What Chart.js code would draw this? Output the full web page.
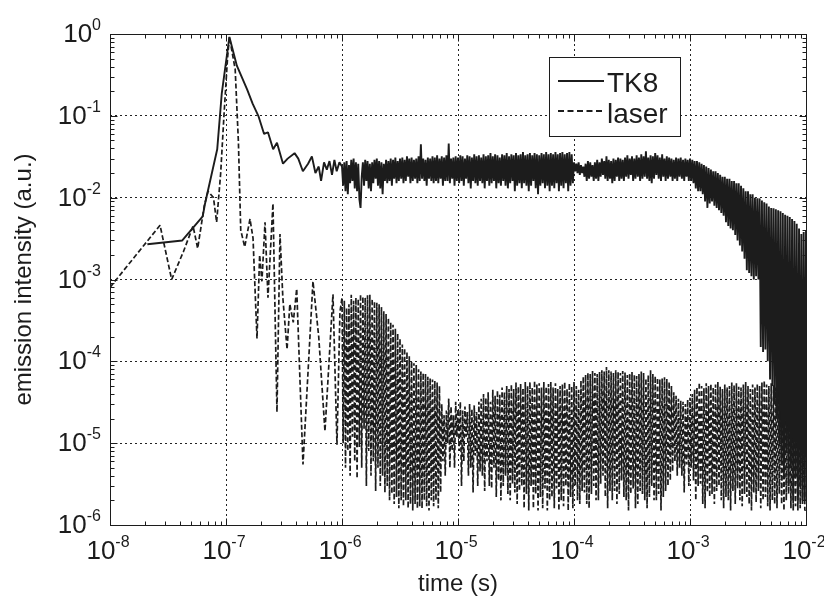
<!DOCTYPE html>
<html><head><meta charset="utf-8">
<script src="https://cdn.jsdelivr.net/npm/chart.js@4"></script>
<style>html,body{margin:0;padding:0;background:#fff}#wrap{width:824px;height:597px}</style>
</head><body><div id="wrap"><canvas id="c" width="824" height="597"></canvas></div>
<script>
// ---- tick labels ----
const xTickValues = [1e-8, 1e-7, 1e-6, 1e-5, 1e-4, 1e-3, 1e-2];
const xTickExps = ['-8', '-7', '-6', '-5', '-4', '-3', '-2'];
const yTickValues = [1e-6, 1e-5, 1e-4, 1e-3, 1e-2, 1e-1, 1];
const yTickExps = ['-6', '-5', '-4', '-3', '-2', '-1', '0'];
const seriesNames = ['TK8', 'laser'];
const xTitle = 'time (s)';
const yTitle = 'emission intensity (a.u.)';

// ---- TK8, early part (t < 1 us) ----
const tk8EarlyT = [2.1e-8,4.2e-8,6.3e-8,6.6e-8,8.4e-8,9.2e-8,1.07e-7,1.24e-7,1.52e-7,1.7e-7,1.9e-7,2.13e-7,2.3e-7,2.55e-7,2.75e-7,3.1e-7,3.4e-7,3.9e-7,4.2e-7,4.6e-7,5.1e-7,5.5e-7,5.9e-7,6.3e-7,6.6e-7,7.0e-7,7.4e-7,7.8e-7,8.2e-7,8.6e-7,9.0e-7,9.5e-7];
const tk8EarlyY = [2.7e-3,3.0e-3,5.9e-3,8.5e-3,3.9e-2,0.19,0.92,0.41,0.21,0.14,0.10,0.06,0.063,0.039,0.047,0.026,0.030,0.035,0.030,0.021,0.026,0.032,0.020,0.024,0.016,0.027,0.022,0.028,0.019,0.029,0.021,0.027];

// ---- laser, early part (t < 1 us) ----
const laserEarlyT = [1e-8,2.7e-8,3.4e-8,4.3e-8,5.2e-8,5.7e-8,6.5e-8,7.0e-8,7.8e-8,8.3e-8,9.0e-8,9.6e-8,1.03e-7,1.07e-7,1.2e-7,1.28e-7,1.34e-7,1.45e-7,1.61e-7,1.71e-7,1.85e-7,1.95e-7,2.04e-7,2.17e-7,2.3e-7,2.54e-7,2.75e-7,2.92e-7,3.09e-7,3.36e-7,3.55e-7,3.8e-7,4.07e-7,4.61e-7,5.62e-7,6.3e-7,7.13e-7,8.36e-7,9.05e-7,9.6e-7];
const laserEarlyY = [8e-4,4.6e-3,1e-3,2.2e-3,4.5e-3,2.4e-3,8e-3,1.2e-2,1e-2,5e-3,2e-2,0.1,0.5,0.92,0.37,0.047,4e-3,2.5e-3,5.5e-3,3.2e-3,1.9e-4,2e-3,9.5e-4,5e-3,6e-4,8.5e-3,2.4e-5,3.6e-3,6e-4,1.4e-4,5e-4,3e-4,7.7e-4,5.5e-6,9.5e-4,2e-4,1.4e-5,6.6e-4,9.6e-6,4e-4];

// ---- shared sample times for the dense part (1 us .. 10 ms) ----
const lateTimes = [
1e-6,1.023e-6,1.047e-6,1.072e-6,1.096e-6,1.122e-6,1.148e-6,1.175e-6,1.202e-6,1.23e-6,
1.259e-6,1.288e-6,1.318e-6,1.349e-6,1.38e-6,1.413e-6,1.445e-6,1.479e-6,1.514e-6,1.549e-6,
1.585e-6,1.622e-6,1.66e-6,1.698e-6,1.738e-6,1.778e-6,1.82e-6,1.862e-6,1.905e-6,1.95e-6,
1.995e-6,2.042e-6,2.089e-6,2.138e-6,2.188e-6,2.239e-6,2.291e-6,2.344e-6,2.399e-6,2.455e-6,
2.512e-6,2.57e-6,2.63e-6,2.692e-6,2.754e-6,2.818e-6,2.884e-6,2.951e-6,3.02e-6,3.09e-6,
3.162e-6,3.236e-6,3.311e-6,3.388e-6,3.467e-6,3.548e-6,3.631e-6,3.715e-6,3.802e-6,3.89e-6,
3.981e-6,4.074e-6,4.169e-6,4.266e-6,4.365e-6,4.467e-6,4.571e-6,4.677e-6,4.786e-6,4.898e-6,
5.012e-6,5.129e-6,5.248e-6,5.37e-6,5.495e-6,5.623e-6,5.754e-6,5.888e-6,6.026e-6,6.166e-6,
6.31e-6,6.457e-6,6.607e-6,6.761e-6,6.918e-6,7.079e-6,7.244e-6,7.413e-6,7.586e-6,7.762e-6,
7.943e-6,8.128e-6,8.318e-6,8.511e-6,8.71e-6,8.913e-6,9.12e-6,9.333e-6,9.55e-6,9.772e-6,
1e-5,1.023e-5,1.047e-5,1.072e-5,1.096e-5,1.122e-5,1.148e-5,1.175e-5,1.202e-5,1.23e-5,
1.259e-5,1.288e-5,1.318e-5,1.349e-5,1.38e-5,1.413e-5,1.445e-5,1.479e-5,1.514e-5,1.549e-5,
1.585e-5,1.622e-5,1.66e-5,1.698e-5,1.738e-5,1.778e-5,1.82e-5,1.862e-5,1.905e-5,1.95e-5,
1.995e-5,2.042e-5,2.089e-5,2.138e-5,2.188e-5,2.239e-5,2.291e-5,2.344e-5,2.399e-5,2.455e-5,
2.512e-5,2.57e-5,2.63e-5,2.692e-5,2.754e-5,2.818e-5,2.884e-5,2.951e-5,3.02e-5,3.09e-5,
3.162e-5,3.236e-5,3.311e-5,3.388e-5,3.467e-5,3.548e-5,3.631e-5,3.715e-5,3.802e-5,3.89e-5,
3.981e-5,4.074e-5,4.169e-5,4.266e-5,4.365e-5,4.467e-5,4.571e-5,4.677e-5,4.786e-5,4.898e-5,
5.012e-5,5.129e-5,5.248e-5,5.37e-5,5.495e-5,5.623e-5,5.754e-5,5.888e-5,6.026e-5,6.166e-5,
6.31e-5,6.457e-5,6.607e-5,6.761e-5,6.918e-5,7.079e-5,7.244e-5,7.413e-5,7.586e-5,7.762e-5,
7.943e-5,8.128e-5,8.318e-5,8.511e-5,8.71e-5,8.913e-5,9.12e-5,9.333e-5,9.55e-5,9.772e-5,
1e-4,1.023e-4,1.047e-4,1.072e-4,1.096e-4,1.122e-4,1.148e-4,1.175e-4,1.202e-4,1.23e-4,
1.259e-4,1.288e-4,1.318e-4,1.349e-4,1.38e-4,1.413e-4,1.445e-4,1.479e-4,1.514e-4,1.549e-4,
1.585e-4,1.622e-4,1.66e-4,1.698e-4,1.738e-4,1.778e-4,1.82e-4,1.862e-4,1.905e-4,1.95e-4,
1.995e-4,2.042e-4,2.089e-4,2.138e-4,2.188e-4,2.239e-4,2.291e-4,2.344e-4,2.399e-4,2.455e-4,
2.512e-4,2.57e-4,2.63e-4,2.692e-4,2.754e-4,2.818e-4,2.884e-4,2.951e-4,3.02e-4,3.09e-4,
3.162e-4,3.236e-4,3.311e-4,3.388e-4,3.467e-4,3.548e-4,3.631e-4,3.715e-4,3.802e-4,3.89e-4,
3.981e-4,4.074e-4,4.169e-4,4.266e-4,4.365e-4,4.467e-4,4.571e-4,4.677e-4,4.786e-4,4.898e-4,
5.012e-4,5.129e-4,5.248e-4,5.37e-4,5.495e-4,5.623e-4,5.754e-4,5.888e-4,6.026e-4,6.166e-4,
6.31e-4,6.457e-4,6.607e-4,6.761e-4,6.918e-4,7.079e-4,7.244e-4,7.413e-4,7.586e-4,7.762e-4,
7.943e-4,8.128e-4,8.318e-4,8.511e-4,8.71e-4,8.913e-4,9.12e-4,9.333e-4,9.55e-4,9.772e-4,
1e-3,1.023e-3,1.047e-3,1.072e-3,1.096e-3,1.122e-3,1.148e-3,1.175e-3,1.202e-3,1.23e-3,
1.259e-3,1.288e-3,1.318e-3,1.349e-3,1.38e-3,1.413e-3,1.445e-3,1.479e-3,1.514e-3,1.549e-3,
1.585e-3,1.622e-3,1.66e-3,1.698e-3,1.738e-3,1.778e-3,1.82e-3,1.862e-3,1.905e-3,1.95e-3,
1.995e-3,2.042e-3,2.089e-3,2.138e-3,2.188e-3,2.239e-3,2.291e-3,2.344e-3,2.399e-3,2.455e-3,
2.512e-3,2.57e-3,2.63e-3,2.692e-3,2.754e-3,2.818e-3,2.884e-3,2.951e-3,3.02e-3,3.09e-3,
3.162e-3,3.236e-3,3.311e-3,3.388e-3,3.467e-3,3.548e-3,3.631e-3,3.715e-3,3.802e-3,3.89e-3,
3.981e-3,4.074e-3,4.169e-3,4.266e-3,4.365e-3,4.467e-3,4.571e-3,4.677e-3,4.786e-3,4.898e-3,
5.012e-3,5.129e-3,5.248e-3,5.37e-3,5.495e-3,5.623e-3,5.754e-3,5.888e-3,6.026e-3,6.166e-3,
6.31e-3,6.457e-3,6.607e-3,6.761e-3,6.918e-3,7.079e-3,7.244e-3,7.413e-3,7.586e-3,7.762e-3,
7.943e-3,8.128e-3,8.318e-3,8.511e-3,8.71e-3,8.913e-3,9.12e-3,9.333e-3,9.55e-3,9.772e-3,
1e-2];

// ---- TK8, dense part ----
const tk8LateY = [
0.024,0.014,0.027,0.012,0.028,0.011,0.025,0.015,0.029,0.016,
0.030,0.013,0.027,0.012,0.026,0.0095,0.0075,0.018,0.027,0.014,
0.029,0.016,0.028,0.013,0.026,0.012,0.027,0.015,0.029,0.017,
0.030,0.014,0.028,0.013,0.027,0.011,0.026,0.016,0.029,0.015,
0.028,0.016,0.030,0.014,0.029,0.017,0.031,0.015,0.028,0.016,
0.030,0.017,0.031,0.015,0.029,0.016,0.032,0.018,0.030,0.015,
0.031,0.016,0.029,0.017,0.030,0.015,0.032,0.016,0.045,0.017,
0.030,0.016,0.029,0.014,0.031,0.017,0.030,0.016,0.032,0.015,
0.031,0.016,0.033,0.015,0.030,0.017,0.032,0.014,0.031,0.016,
0.033,0.016,0.046,0.015,0.030,0.017,0.031,0.014,0.032,0.016,
0.031,0.015,0.033,0.016,0.032,0.014,0.030,0.017,0.033,0.015,
0.032,0.013,0.031,0.016,0.034,0.015,0.032,0.014,0.033,0.016,
0.031,0.015,0.034,0.013,0.032,0.016,0.033,0.014,0.035,0.015,
0.032,0.016,0.034,0.013,0.033,0.015,0.031,0.014,0.034,0.016,
0.033,0.014,0.035,0.013,0.032,0.015,0.034,0.016,0.033,0.012,
0.035,0.014,0.033,0.015,0.034,0.013,0.036,0.015,0.033,0.014,
0.034,0.012,0.035,0.014,0.033,0.016,0.035,0.013,0.034,0.011,
0.033,0.014,0.035,0.015,0.034,0.013,0.036,0.014,0.034,0.012,
0.035,0.014,0.034,0.013,0.036,0.015,0.034,0.012,0.035,0.014,
0.036,0.013,0.034,0.015,0.035,0.012,0.036,0.014,0.034,0.015,
0.027,0.021,0.026,0.020,0.027,0.019,0.025,0.020,0.024,0.018,
0.026,0.016,0.028,0.017,0.027,0.018,0.025,0.016,0.027,0.017,
0.029,0.016,0.027,0.018,0.030,0.019,0.028,0.017,0.032,0.016,
0.029,0.017,0.028,0.015,0.030,0.016,0.029,0.018,0.031,0.016,
0.030,0.017,0.029,0.016,0.031,0.018,0.033,0.017,0.030,0.019,
0.032,0.016,0.030,0.017,0.033,0.018,0.031,0.016,0.034,0.017,
0.032,0.018,0.037,0.017,0.031,0.016,0.033,0.015,0.032,0.017,
0.035,0.019,0.033,0.017,0.031,0.016,0.034,0.018,0.030,0.016,
0.032,0.017,0.031,0.018,0.030,0.016,0.029,0.017,0.031,0.016,
0.030,0.018,0.031,0.017,0.029,0.016,0.030,0.018,0.029,0.016,
0.030,0.016,0.029,0.015,0.028,0.013,0.028,0.012,0.027,0.012,
0.026,0.011,0.025,0.009,0.024,0.0075,0.023,0.0085,0.022,0.009,
0.021,0.008,0.021,0.0075,0.020,0.007,0.019,0.0065,0.018,0.006,
0.018,0.005,0.017,0.0045,0.017,0.0042,0.016,0.004,0.016,0.0035,
0.015,0.003,0.015,0.0026,0.014,0.0022,0.013,0.0018,0.012,0.0013,
0.012,0.0012,0.011,0.0011,0.011,0.001,0.010,0.0011,0.0098,0.001,
0.0098,0.00015,0.0092,0.00013,0.0088,0.00014,0.0085,0.0001,0.0078,0.00006,
0.0075,0.00005,0.0074,0.00003,0.0072,0.00002,0.0070,0.00001,0.0068,0.000006,
0.0065,0.000004,0.0062,0.000008,0.0060,0.000003,0.0058,0.000005,0.0055,0.000002,
0.0052,0.000004,0.0048,0.000002,0.0042,0.000003,0.0036,0.000002,0.0038,0.000002,
0.0040];

// ---- laser, dense part ----
const laserLateY = [
6e-4,1e-5,5.5e-4,5e-6,4.5e-4,8e-6,5e-4,4e-6,6.5e-4,1.2e-5,
5.5e-4,6e-6,6e-4,3.7e-6,5.8e-4,9e-6,6.6e-4,5e-6,6.2e-4,1.5e-5,
6e-4,3e-6,6.4e-4,8e-6,6.5e-4,4e-6,5.8e-4,6e-6,5.4e-4,2.6e-6,
5.2e-4,5e-6,5e-4,3e-6,4.6e-4,4e-6,4.1e-4,2.5e-6,3.8e-4,3e-6,
3.4e-4,2e-6,3e-4,2.4e-6,2.8e-4,1.8e-6,2.5e-4,2.2e-6,2.2e-4,1.6e-6,
1.9e-4,2e-6,1.6e-4,1.7e-6,1.45e-4,2e-6,1.3e-4,1.6e-6,1.15e-4,1.8e-6,
1e-4,1.5e-6,9.5e-5,1.8e-6,9e-5,1.6e-6,8e-5,1.7e-6,7.5e-5,1.6e-6,
7.2e-5,2e-6,7e-5,1.7e-6,6.5e-5,1.5e-6,6.2e-5,2e-6,6e-5,1.7e-6,
5.8e-5,2e-6,5.5e-5,1.6e-6,5e-5,2.5e-6,3e-5,6e-6,2.2e-5,4e-6,
2.5e-5,1e-5,3.5e-5,5e-6,2.8e-5,8e-6,2.2e-5,5e-6,3.2e-5,1.2e-5,
2.6e-5,8e-6,3.2e-5,3e-6,2.5e-5,6e-6,2.8e-5,1.2e-5,2.4e-5,4e-6,
3e-5,5e-6,2.6e-5,2.5e-6,2.9e-5,7e-6,2.4e-5,3e-6,3.2e-5,4.5e-6,
3.5e-5,4e-6,4e-5,2.6e-6,3.6e-5,6e-6,4.2e-5,3e-6,3.2e-5,2.8e-6,
4.5e-5,5e-6,3.8e-5,2.2e-6,4.4e-5,3.5e-6,3.9e-5,2e-6,4.8e-5,3e-6,
4.2e-5,4e-6,5e-5,2.4e-6,4.6e-5,2e-6,5.2e-5,3.2e-6,4.6e-5,2.5e-6,
5.5e-5,1.8e-6,4.9e-5,2.6e-6,5.3e-5,3e-6,4.7e-5,1.6e-6,5.6e-5,2.4e-6,
5e-5,1.5e-6,5.6e-5,3e-6,4.8e-5,1.6e-6,5.8e-5,2.4e-6,5.2e-5,1.5e-6,
5.4e-5,2.2e-6,4.8e-5,1.6e-6,5.6e-5,2.8e-6,4.9e-5,1.5e-6,5.3e-5,2e-6,
5.6e-5,2.2e-6,4.8e-5,1.6e-6,5.4e-5,2.8e-6,4.6e-5,1.5e-6,5e-5,2e-6,
5.2e-5,1.7e-6,5.6e-5,3e-6,4.6e-5,1.5e-6,5.4e-5,2.2e-6,5e-5,1.6e-6,
5.6e-5,3e-6,5e-5,2e-6,4.5e-5,1.8e-6,5.8e-5,2.6e-6,6.5e-5,2.5e-6,
6.8e-5,1.8e-6,7.2e-5,1.6e-6,7e-5,2.4e-6,7.6e-5,3e-6,7.2e-5,2e-6,
7e-5,2e-6,7.4e-5,3.2e-6,7.8e-5,4e-6,7.5e-5,2.2e-6,8.5e-5,1.6e-6,
7.8e-5,2.6e-6,7.5e-5,2e-6,7.2e-5,2.6e-6,7.8e-5,1.8e-6,7.4e-5,2.4e-6,
7.2e-5,3.5e-6,7.6e-5,2.2e-6,7.3e-5,2e-6,6.8e-5,1.5e-6,7.1e-5,2.4e-6,
7.4e-5,2.8e-6,6.9e-5,1.6e-6,6.6e-5,1.8e-6,7e-5,2.6e-6,7.5e-5,2.4e-6,
7.2e-5,2e-6,6.2e-5,1.6e-6,6.8e-5,2.2e-6,7.8e-5,3e-6,7e-5,2e-6,
6.6e-5,2e-6,6.3e-5,2.4e-6,6e-5,1.5e-6,6.2e-5,2.2e-6,6.4e-5,2.6e-6,
6.1e-5,3e-6,5.6e-5,3.5e-6,5e-5,4.5e-6,4.2e-5,6e-6,3.8e-5,4e-6,
3.5e-5,5e-6,3.3e-5,4e-6,3.2e-5,2.5e-6,3e-5,5.5e-6,3.4e-5,3e-6,
3.6e-5,5e-6,4e-5,3.5e-6,4.5e-5,2e-6,4.8e-5,3e-6,5.5e-5,3.2e-6,
5e-5,1.8e-6,4.7e-5,1.6e-6,5.4e-5,2.5e-6,5e-5,2.2e-6,5.3e-5,2.4e-6,
4.8e-5,1.8e-6,5.2e-5,2.6e-6,5.6e-5,3e-6,4.9e-5,2e-6,4.6e-5,1.6e-6,
5.2e-5,2.2e-6,4.8e-5,2e-6,5e-5,1.5e-6,5.5e-5,2.6e-6,5.1e-5,1.8e-6,
5.4e-5,2.8e-6,4.9e-5,2e-6,4.8e-5,1.7e-6,5.2e-5,2.4e-6,5.6e-5,2.2e-6,
5e-5,1.8e-6,4.6e-5,1.5e-6,5.2e-5,2.5e-6,4.8e-5,1.9e-6,5.3e-5,2.6e-6,
5e-5,1.6e-6,5.5e-5,2e-6,5.8e-5,2.2e-6,5.2e-5,1.7e-6,5e-5,1.5e-6,
5.4e-5,2e-6,5.1e-5,1.8e-6,4.8e-5,1.6e-6,5.2e-5,2.4e-6,5.6e-5,1.8e-6,
5.3e-5,1.5e-6,5e-5,2e-6,5.2e-5,2.4e-6,4.8e-5,1.6e-6,5.4e-5,1.5e-6,
5e-5,1.7e-6,4.6e-5,1.5e-6,5.2e-5,1.6e-6,4.8e-5,1.8e-6,5e-5,1.5e-6,
1.6e-6];

function pts(ts, ys) { return ts.map((t, i) => ({ x: t, y: ys[i] })); }
const tk8Data = pts(tk8EarlyT, tk8EarlyY).concat(pts(lateTimes, tk8LateY));
const laserData = pts(laserEarlyT, laserEarlyY).concat(pts(lateTimes, laserLateY));

const FONT = '"Liberation Sans", Arial, Helvetica, sans-serif';
const INK = '#1c1c1c';

const framePlugin = {
  id: 'frame',
  afterDraw(chart) {
    const ctx = chart.ctx, a = chart.chartArea, xs = chart.scales.x, ys = chart.scales.y;
    ctx.save();
    ctx.setLineDash([]);
    ctx.strokeStyle = INK; ctx.lineWidth = 1;
    const L = Math.round(a.left) + 0.5, R = Math.round(a.right) + 0.5, T = Math.round(a.top) + 0.5, B = Math.round(a.bottom) + 0.5;
    ctx.strokeRect(L, T, R - L, B - T);
    ctx.beginPath();
    for (let e = -8; e <= -2; e++) {
      for (let m = 1; m <= 9; m++) {
        if (e === -2 && m > 1) break;
        const px = Math.round(xs.getPixelForValue(m * Math.pow(10, e))) + 0.5;
        const len = m === 1 ? 7 : 4;
        ctx.moveTo(px, B); ctx.lineTo(px, B - len);
        ctx.moveTo(px, T); ctx.lineTo(px, T + len);
      }
    }
    for (let e = -6; e <= 0; e++) {
      for (let m = 1; m <= 9; m++) {
        if (e === 0 && m > 1) break;
        const py = Math.round(ys.getPixelForValue(m * Math.pow(10, e))) + 0.5;
        const len = m === 1 ? 7 : 4;
        ctx.moveTo(L, py); ctx.lineTo(L + len, py);
        ctx.moveTo(R, py); ctx.lineTo(R - len, py);
      }
    }
    ctx.stroke();

    // tick labels
    ctx.fillStyle = INK;
    ctx.textBaseline = 'alphabetic';
    ctx.textAlign = 'left';
    xTickValues.forEach((v, i) => {
      const px = xs.getPixelForValue(v);
      ctx.font = '26px ' + FONT; const w1 = ctx.measureText('10').width;
      ctx.font = '16px ' + FONT; const w2 = ctx.measureText(xTickExps[i]).width;
      const x0 = px - (w1 + w2) / 2 - 2;
      ctx.font = '26px ' + FONT; ctx.fillText('10', x0, 559);
      ctx.font = '16px ' + FONT; ctx.fillText(xTickExps[i], x0 + w1, 547);
    });
    yTickValues.forEach((v, i) => {
      const py = ys.getPixelForValue(v);
      ctx.font = '26px ' + FONT; const w1 = ctx.measureText('10').width;
      ctx.font = '16px ' + FONT; const w2 = ctx.measureText(yTickExps[i]).width;
      const x0 = 101 - (w1 + w2);
      ctx.font = '26px ' + FONT; ctx.fillText('10', x0, py + 8);
      ctx.font = '16px ' + FONT; ctx.fillText(yTickExps[i], x0 + w1, py - 4);
    });

    // axis titles
    ctx.font = '24px ' + FONT;
    ctx.textAlign = 'center';
    ctx.fillText(xTitle, (a.left + a.right) / 2, 591);
    ctx.save();
    ctx.translate(31, (a.top + a.bottom) / 2);
    ctx.rotate(-Math.PI / 2);
    ctx.fillText(yTitle, 0, 0);
    ctx.restore();

    // legend
    ctx.fillStyle = '#fff';
    ctx.fillRect(549.5, 57.5, 131, 79);
    ctx.strokeStyle = INK; ctx.lineWidth = 1;
    ctx.strokeRect(549.5, 57.5, 131, 79);
    ctx.lineWidth = 1.8;
    ctx.beginPath(); ctx.moveTo(558, 81); ctx.lineTo(604, 81); ctx.stroke();
    ctx.setLineDash([6, 3.5]);
    ctx.beginPath(); ctx.moveTo(558, 111); ctx.lineTo(604, 111); ctx.stroke();
    ctx.setLineDash([]);
    ctx.fillStyle = INK;
    ctx.textAlign = 'left';
    ctx.font = '28px ' + FONT;
    ctx.fillText(chart.data.datasets[0].label, 607, 92);
    ctx.fillText(chart.data.datasets[1].label, 607, 123);
    ctx.restore();
  }
};

function decadeTicks(values) {
  return function (scale) { scale.ticks = values.map(v => ({ value: v })); };
}

new Chart(document.getElementById('c'), {
  type: 'line',
  data: {
    datasets: [
      { label: seriesNames[0], data: tk8Data, borderColor: INK, borderWidth: 1.9, pointRadius: 0, tension: 0, fill: false, borderJoinStyle: 'bevel' },
      { label: seriesNames[1], data: laserData, borderColor: INK, borderWidth: 1.7, borderDash: [5, 2.5], pointRadius: 0, tension: 0, fill: false, borderJoinStyle: 'bevel' }
    ]
  },
  options: {
    responsive: false,
    animation: false,
    devicePixelRatio: 1,
    layout: { padding: { left: 110, right: 18, top: 34, bottom: 72 } },
    plugins: { legend: { display: false }, tooltip: { enabled: false } },
    scales: {
      x: {
        type: 'logarithmic', min: 1e-8, max: 1e-2,
        afterBuildTicks: decadeTicks(xTickValues),
        ticks: { display: false },
        grid: { color: '#222', lineWidth: 1, drawTicks: false },
        border: { display: false, dash: [2, 3] }
      },
      y: {
        type: 'logarithmic', min: 1e-6, max: 1,
        afterBuildTicks: decadeTicks(yTickValues),
        ticks: { display: false },
        grid: { color: '#222', lineWidth: 1, drawTicks: false },
        border: { display: false, dash: [2, 3] }
      }
    }
  },
  plugins: [framePlugin]
});
</script>
</body></html>
